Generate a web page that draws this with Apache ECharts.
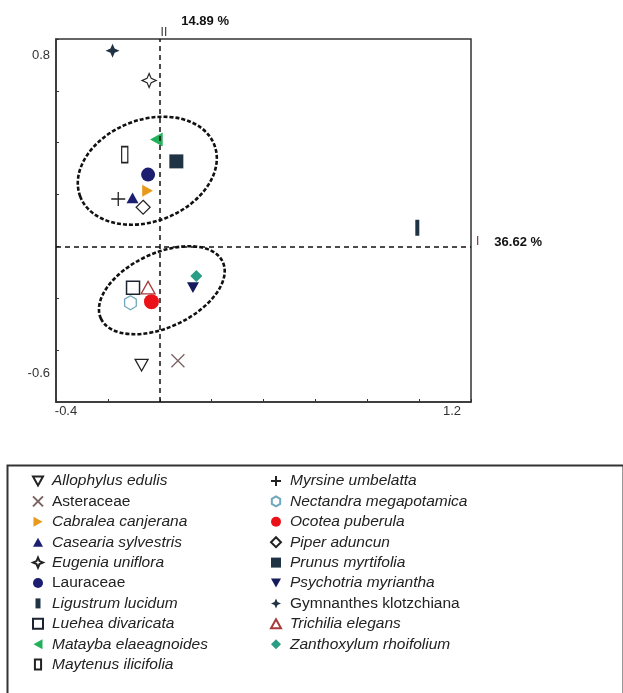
<!DOCTYPE html>
<html>
<head>
<meta charset="utf-8">
<script src="https://cdn.jsdelivr.net/npm/echarts@6/dist/echarts.min.js"></script>
<style>
  html, body { margin: 0; padding: 0; background: #fff; }
  #main { width: 623px; height: 693px; }
</style>
</head>
<body>
<div id="main"></div>
<script>
// species in legend order (left column, then right column)
const speciesNames = [
  'Allophylus edulis', 'Asteraceae', 'Cabralea canjerana', 'Casearia sylvestris',
  'Eugenia uniflora', 'Lauraceae', 'Ligustrum lucidum', 'Luehea divaricata',
  'Matayba elaeagnoides', 'Maytenus ilicifolia',
  'Myrsine umbelatta', 'Nectandra megapotamica', 'Ocotea puberula', 'Piper aduncun',
  'Prunus myrtifolia', 'Psychotria myriantha', 'Gymnanthes klotzchiana',
  'Trichilia elegans', 'Zanthoxylum rhoifolium'
]
// axis I scores
const xValues = [
  -0.070, 0.070, -0.047, -0.105, -0.041, -0.045, 0.993, -0.103, -0.013, -0.135,
  -0.160, -0.113, -0.032, -0.064, 0.064, 0.128, -0.182, -0.045, 0.141
]
// axis II scores
const yValues = [
  -0.458, -0.441, 0.215, 0.187, 0.640, 0.277, 0.072, -0.159, 0.412, 0.354,
  0.183, -0.217, -0.213, 0.151, 0.328, -0.159, 0.755, -0.159, -0.114
]
// names written upright in the legend (not italic)
const uprightNames = ['Asteraceae', 'Lauraceae', 'Gymnanthes klotzchiana']
const leftColumn = speciesNames.slice(0, 10)
const rightColumn = speciesNames.slice(10)

// dashed group ellipses: centre x, centre y, semi-axis a, semi-axis b, tilt (deg)
const ellipseCx = [-0.048, 0.008]
const ellipseCy = [0.292, -0.169]
const ellipseA = [0.277, 0.259]
const ellipseB = [0.196, 0.143]
const ellipseTilt = [21, 25]

const xTickLabels = ['-0.4', '1.2']
const yTickLabels = ['0.8', '-0.6']
const axisNames = ['I', 'II']
const axisPercents = ['36.62 %', '14.89 %']

const star4 = 'path://M10,0 L13,7 L20,10 L13,13 L10,20 L7,13 L0,10 L7,7 Z'
const cross = 'path://M0,0 L10,10 M10,0 L0,10'
const plus = 'path://M0,5 L10,5 M5,0 L5,10'
const hexagon = 'path://M5,0 L10,3 L10,9 L5,12 L0,9 L0,3 Z'
const triUp = 'path://M5,0 L10,9 L0,9 Z'
const triDown = 'path://M0,0 L10,0 L5,9 Z'
const triRight = 'path://M0,0 L9,5 L0,10 Z'
const triLeft = 'path://M9,0 L0,5 L9,10 Z'
const clear = 'rgba(0,0,0,0)'

const styles = {
  'Allophylus edulis': { symbol: triDown, size: 13, color: '#fff', border: '#222', bw: 1.3 },
  'Asteraceae': { symbol: cross, size: 13, color: clear, border: '#7a6262', bw: 1.3 },
  'Cabralea canjerana': { symbol: triRight, size: 12, color: '#e89a1c' },
  'Casearia sylvestris': { symbol: triUp, size: 12, color: '#1c1f70' },
  'Eugenia uniflora': { symbol: star4, size: 14, color: '#fff', border: '#222', bw: 1.2 },
  'Lauraceae': { symbol: 'circle', size: 14, color: '#1c1f70' },
  'Ligustrum lucidum': { symbol: 'path://M0,0 L6,0 L6,12 L0,12 Z', size: [8, 16], color: '#1f3344' },
  'Luehea divaricata': { symbol: 'rect', size: 13, color: '#fff', border: '#1c2430', bw: 1.5 },
  'Matayba elaeagnoides': { symbol: triLeft, size: 14, color: '#22b05a' },
  'Maytenus ilicifolia': { symbol: 'path://M0,0 L8,0 L8,13 L0,13 Z', size: [10, 16], color: '#fff', border: '#222', bw: 1.5 },
  'Myrsine umbelatta': { symbol: plus, size: 14, color: clear, border: '#222', bw: 1.3 },
  'Nectandra megapotamica': { symbol: hexagon, size: 14, color: '#fff', border: '#6fa8bd', bw: 1.3 },
  'Ocotea puberula': { symbol: 'circle', size: 15, color: '#ea1218' },
  'Piper aduncun': { symbol: 'diamond', size: 14, color: '#fff', border: '#222', bw: 1.2 },
  'Prunus myrtifolia': { symbol: 'rect', size: 14, color: '#1f3344' },
  'Psychotria myriantha': { symbol: triDown, size: 12, color: '#151a5c' },
  'Gymnanthes klotzchiana': { symbol: star4, size: 14, color: '#1f3344' },
  'Trichilia elegans': { symbol: triUp, size: 14, color: '#fff', border: '#a83a3a', bw: 1.3 },
  'Zanthoxylum rhoifolium': { symbol: 'diamond', size: 12, color: '#2a9d85' }
}

const font = '"Liberation Sans", Arial, sans-serif'

function tickLabel(v, labels, keys) {
  const s = Number(v).toFixed(1)
  const i = labels.indexOf(s)
  return i < 0 ? '' : '{' + keys[i] + '|' + labels[i] + '}'
}

const ellipseData = ellipseCx.map((cx, i) => [cx, ellipseCy[i], ellipseA[i], ellipseB[i], ellipseTilt[i]])

const series = speciesNames.map((name, i) => {
  const st = styles[name]
  const s = {
    name: name,
    type: 'scatter',
    z: 3,
    symbol: st.symbol,
    symbolSize: st.size,
    symbolKeepAspect: true,
    itemStyle: {
      color: st.color,
      borderColor: st.border || st.color,
      borderWidth: st.bw || 0,
      opacity: 1
    },
    emphasis: { disabled: true },
    data: [[xValues[i], yValues[i]]]
  }
  if (i === 0) {
    s.markLine = {
      silent: true,
      symbol: ['none', 'none'],
      animation: false,
      lineStyle: { color: '#111', type: [5, 4], width: 1.5 },
      data: [
        {
          xAxis: 0,
          label: {
            position: 'end',
            distance: 5,
            padding: [0, 0, 0, 70],
            formatter: '{r|' + axisNames[1] + '}{p|' + axisPercents[1] + '}',
            rich: {
              r: { fontSize: 12, color: '#333', fontFamily: font, lineHeight: 12, padding: [12, 0, 0, 0] },
              p: { fontSize: 13, fontWeight: 'bold', color: '#111', fontFamily: font, lineHeight: 14, padding: [0, 0, 12, 14] }
            }
          }
        },
        {
          yAxis: 0,
          label: {
            position: 'end',
            distance: 5,
            padding: [0, 0, 9, 0],
            formatter: '{r|' + axisNames[0] + '}{p|' + axisPercents[0] + '}',
            rich: {
              r: { fontSize: 12, color: '#6a3344', fontFamily: font },
              p: { fontSize: 13, fontWeight: 'bold', color: '#111', fontFamily: font, padding: [0, 0, 0, 15] }
            }
          }
        }
      ]
    }
  }
  return s
})

series.push({
  type: 'custom',
  name: 'groups',
  z: 1,
  silent: true,
  coordinateSystem: 'cartesian2d',
  data: ellipseData,
  renderItem: function (params, api) {
    const c = api.coord([api.value(0), api.value(1)])
    const sz = api.size([api.value(2), api.value(3)])
    return {
      type: 'ellipse',
      x: c[0],
      y: c[1],
      rotation: api.value(4) * Math.PI / 180,
      shape: { cx: 0, cy: 0, rx: sz[0], ry: sz[1] },
      style: { fill: 'none', stroke: '#111', lineWidth: 2.6, lineDash: [4, 2] }
    }
  }
})

function legendData(names) {
  return names.map(n => ({
    name: n,
    textStyle: { fontStyle: uprightNames.indexOf(n) >= 0 ? 'normal' : 'italic' }
  }))
}

const legendBase = {
  orient: 'vertical',
  top: 473,
  padding: 0,
  itemGap: 4.4,
  itemWidth: 10,
  itemHeight: 10,
  selectedMode: false,
  textStyle: { fontSize: 15.5, lineHeight: 15, color: '#222', fontFamily: font, padding: [0, 0, 0, 4] }
}

const myChart = echarts.init(document.getElementById('main'), null, { renderer: 'canvas' })
const option = {
  backgroundColor: '#fff',
  animation: false,
  grid: {
    left: 56, top: 39, right: 152, bottom: 291,
    show: true, borderColor: '#333', borderWidth: 1.5, backgroundColor: '#fff'
  },
  xAxis: {
    type: 'value', min: -0.4, max: 1.2, interval: 0.2,
    splitLine: { show: false },
    axisLine: { show: true, onZero: false, lineStyle: { color: '#333', width: 1.5 } },
    axisTick: { show: true, inside: true, length: 3, lineStyle: { color: '#333' } },
    axisLabel: {
      margin: 3,
      color: '#333',
      fontSize: 13,
      fontFamily: font,
      formatter: v => tickLabel(v, xTickLabels, ['lo', 'hi']),
      rich: {
        lo: { fontSize: 13, fontFamily: font, color: '#333', padding: [0, 0, 0, 20] },
        hi: { fontSize: 13, fontFamily: font, color: '#333', padding: [0, 38, 0, 0] }
      }
    }
  },
  yAxis: {
    type: 'value', min: -0.6, max: 0.8, interval: 0.2,
    splitLine: { show: false },
    axisLine: { show: true, onZero: false, lineStyle: { color: '#333', width: 1.5 } },
    axisTick: { show: true, inside: true, length: 3, lineStyle: { color: '#333' } },
    axisLabel: {
      margin: 6,
      color: '#333',
      fontSize: 13,
      fontFamily: font,
      formatter: v => tickLabel(v, yTickLabels, ['hi', 'lo']),
      rich: {
        hi: { fontSize: 13, fontFamily: font, color: '#333', padding: [32, 0, 0, 0] },
        lo: { fontSize: 13, fontFamily: font, color: '#333', padding: [0, 0, 58, 0] }
      }
    }
  },
  legend: [
    Object.assign({}, legendBase, { left: 32, data: legendData(leftColumn) }),
    Object.assign({}, legendBase, { left: 270, data: legendData(rightColumn) })
  ],
  graphic: [{
    type: 'rect',
    left: 5, top: 463,
    shape: { width: 616, height: 240 },
    style: { fill: 'none', stroke: '#333', lineWidth: 2 },
    silent: true
  }],
  series: series
}
myChart.setOption(option)
</script>
</body>
</html>
